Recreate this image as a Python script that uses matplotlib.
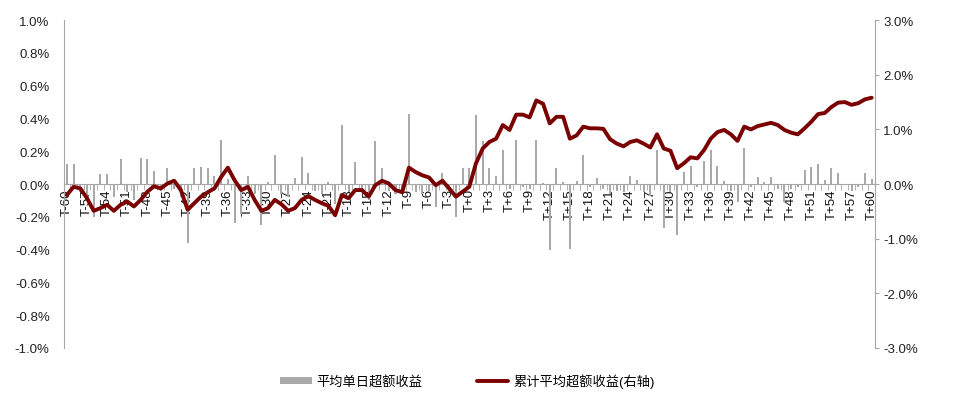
import matplotlib
matplotlib.use("Agg")
import matplotlib.pyplot as plt
import numpy as np

plt.rcParams['font.family'] = ['Liberation Sans', 'Noto Sans CJK SC']
plt.rcParams['axes.unicode_minus'] = False

# event days T-60 .. T+60
days = list(range(-60, 61))
day_labels = ["T+%d" % d if d >= 0 else "T%d" % d for d in days]

# average daily excess return (%), left axis
daily_ret = [
    0.12, 0.12, -0.05, -0.10, -0.20, 0.06, 0.06, -0.08, 0.15, -0.05,
    -0.10, 0.16, 0.15, 0.08, -0.04, 0.10, -0.03, -0.08, -0.36, 0.095,
    0.105, 0.095, 0.05, 0.27, 0.03, -0.24, -0.18, 0.05, -0.06, -0.25,
    0.01, 0.18, -0.06, -0.08, 0.035, 0.165, 0.07, -0.04, -0.06, 0.01,
    -0.12, 0.36, -0.05, 0.135, -0.03, -0.10, 0.26, 0.10, -0.04, -0.06,
    -0.05, 0.43, -0.05, -0.06, -0.04, -0.14, 0.07, -0.05, -0.20, 0.10,
    0.095, 0.42, 0.26, 0.10, 0.05, 0.21, -0.03, 0.27, -0.02, -0.03,
    0.27, 0.005, -0.405, 0.095, 0.01, -0.395, 0.02, 0.175, -0.02, 0.035,
    -0.03, -0.06, -0.04, -0.05, 0.05, 0.025, -0.05, -0.07, 0.21, -0.27,
    -0.05, -0.31, 0.075, 0.11, -0.02, 0.14, 0.21, 0.11, 0.02, -0.04,
    -0.11, 0.22, -0.02, 0.04, 0.01, 0.04, -0.03, -0.11, -0.03, -0.02,
    0.085, 0.105, 0.12, 0.025, 0.10, 0.07, 0.00, -0.04, -0.02, 0.07,
    0.03,
]

# cumulative average excess return (%), right axis
cum_ret = [
    -0.20, -0.05, -0.08, -0.26, -0.49, -0.44, -0.38, -0.49, -0.38, -0.32,
    -0.41, -0.29, -0.14, -0.04, -0.08, 0.01, 0.06, -0.11, -0.47, -0.35,
    -0.23, -0.15, -0.08, 0.13, 0.30, 0.07, -0.11, -0.05, -0.29, -0.49,
    -0.44, -0.29, -0.37, -0.49, -0.44, -0.29, -0.22, -0.29, -0.35, -0.40,
    -0.57, -0.20, -0.26, -0.11, -0.11, -0.23, -0.02, 0.06, 0.01, -0.11,
    -0.15, 0.30, 0.22, 0.16, 0.12, -0.02, 0.06, -0.08, -0.23, -0.14,
    -0.05, 0.38, 0.65, 0.77, 0.83, 1.08, 0.99, 1.27, 1.27, 1.22,
    1.53, 1.47, 1.11, 1.23, 1.23, 0.83, 0.89, 1.05, 1.02, 1.02,
    1.01, 0.82, 0.74, 0.69, 0.77, 0.80, 0.74, 0.67, 0.91, 0.65,
    0.61, 0.29, 0.38, 0.49, 0.47, 0.62, 0.83, 0.95, 0.99, 0.91,
    0.79, 1.05, 1.00, 1.06, 1.09, 1.12, 1.08, 0.99, 0.94, 0.91,
    1.02, 1.14, 1.28, 1.30, 1.41, 1.49, 1.50, 1.45, 1.48, 1.55,
    1.58,
]

left_ticks = [-1.0, -0.8, -0.6, -0.4, -0.2, 0.0, 0.2, 0.4, 0.6, 0.8, 1.0]
right_ticks = [-3.0, -2.0, -1.0, 0.0, 1.0, 2.0, 3.0]

bar_color = '#A9A9A9'
line_color = '#7B0000'
spine_color = '#A6A6A6'

fig = plt.figure(figsize=(9.54, 4.06), dpi=100)
ax = fig.add_axes([0.0666, 0.1404, 0.8506, 0.8076])
x = np.arange(len(days))

ax.bar(x, daily_ret, width=0.3, color=bar_color, label='平均单日超额收益', zorder=2)
ax.set_xlim(-0.37, len(days) - 1 + 0.37)
ax.set_ylim(-1.0, 1.0)
ax.set_yticks(left_ticks)
ax.set_yticklabels(["%.1f%%" % v for v in left_ticks], fontsize=9.5, color='#222222')
ax.tick_params(axis='y', length=0, pad=10)

ax.spines['top'].set_visible(False)
ax.spines['right'].set_visible(False)
ax.spines['left'].set_color(spine_color)
ax.spines['bottom'].set_position(('data', 0))
ax.spines['bottom'].set_color(spine_color)

ax.set_xticks(x[::3])
ax.set_xticklabels(day_labels[::3], rotation=90, fontsize=9.5, color='#111111')
ax.set_xticks(np.arange(-0.5, len(days), 1), minor=True)
ax.tick_params(axis='x', which='major', length=0, pad=3)
ax.tick_params(axis='x', which='minor', length=4, color=spine_color, direction='out')

ax2 = ax.twinx()
ax2.plot(x, cum_ret, color=line_color, lw=2.8, label='累计平均超额收益(右轴)',
         solid_joinstyle='round', solid_capstyle='round')
ax2.set_ylim(-3.0, 3.0)
ax2.set_yticks(right_ticks)
ax2.set_yticklabels(["%.1f%%" % v for v in right_ticks], fontsize=9.5, color='#222222')
ax2.tick_params(axis='y', length=3, color=spine_color, pad=3)
ax2.spines['top'].set_visible(False)
ax2.spines['left'].set_visible(False)
ax2.spines['bottom'].set_visible(False)
ax2.spines['right'].set_color(spine_color)

h1, l1 = ax.get_legend_handles_labels()
h2, l2 = ax2.get_legend_handles_labels()
fig.legend(h1 + h2, l1 + l2, loc='center', bbox_to_anchor=(0.49, 0.059), ncol=2,
           frameon=False, fontsize=9.5, handlelength=2.4, handleheight=0.5,
           handletextpad=0.35, columnspacing=4.1)

fig.savefig('out.png', dpi=100)
